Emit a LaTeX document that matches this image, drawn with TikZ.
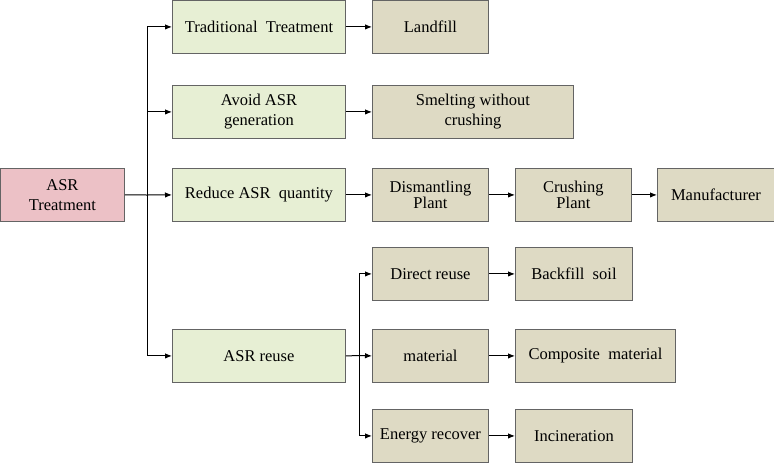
\documentclass[tikz,border=0pt]{standalone}
\usepackage{fontspec}
\setmainfont{Liberation Serif}
\usetikzlibrary{arrows.meta}
\definecolor{pinkf}{RGB}{236,193,198}
\definecolor{greenf}{RGB}{231,239,212}
\definecolor{tanf}{RGB}{222,218,196}
\definecolor{edgec}{RGB}{100,100,100}
\tikzset{
  box/.style={draw=edgec, line width=0.9pt, minimum height=53pt, inner sep=0pt, align=center, font=\fontsize{16.5}{20}\selectfont, anchor=north west},
  pinkbox/.style={box, fill=pinkf},
  greenbox/.style={box, fill=greenf, minimum width=173pt},
  tanbox/.style={box, fill=tanf},
  conn/.style={line width=1pt, black},
  arr/.style={conn, -{Latex[length=7pt,width=5.5pt]}}
}
\begin{document}
\begin{tikzpicture}[x=1pt,y=-1pt]
\useasboundingbox (0,0) rectangle (774,463);
\node[pinkbox, minimum width=124pt] (asr) at (0,168) {ASR\\Treatment};
\node[greenbox] (trad) at (172,0) {Traditional\ \ Treatment};
\node[greenbox] (avoid) at (172,85) {Avoid ASR\\generation};
\node[greenbox] (reduce) at (172,168) {Reduce\ ASR\ \ quantity};
\node[greenbox] (reuse) at (172,329) {ASR reuse};
\node[tanbox, minimum width=116pt] (land) at (372,0) {Landfill};
\node[tanbox, minimum width=201pt] (smelt) at (372,85) {Smelting without\\crushing};
\node[tanbox, minimum width=116pt, font=\fontsize{16.5}{15.5}\selectfont] (dis) at (372,168) {Dismantling\\Plant};
\node[tanbox, minimum width=116pt, font=\fontsize{16.5}{15.5}\selectfont] (crush) at (515,168) {Crushing\\Plant};
\node[tanbox, minimum width=117pt] (manu) at (657,168) {Manufacturer};
\node[tanbox, minimum width=116pt] (direct) at (372,247) {Direct reuse};
\node[tanbox, minimum width=116pt] (mat) at (372,329) {material};
\node[tanbox, minimum width=116pt] (energy) at (372,409) {Energy\ recover};
\node[tanbox, minimum width=117pt] (back) at (515,247) {Backfill\ \ soil};
\node[tanbox, minimum width=160pt] (comp) at (515,329) {Composite\ \ material};
\node[tanbox, minimum width=117pt] (inc) at (515,409) {Incineration};
\coordinate (j1) at (147,195);
\coordinate (j2) at (359,355.5);
\draw[conn] (asr.east) -- (j1);
\draw[arr] (j1) |- (trad.west);
\draw[arr] (j1) |- (avoid.west);
\draw[arr] (j1) -- (reduce.west);
\draw[arr] (j1) |- (reuse.west);
\draw[arr] (trad.east) -- (land.west);
\draw[arr] (avoid.east) -- (smelt.west);
\draw[arr] (reduce.east) -- (dis.west);
\draw[arr] (dis.east) -- (crush.west);
\draw[arr] (crush.east) -- (manu.west);
\draw[conn] (reuse.east) -- (j2);
\draw[arr] (j2) |- (direct.west);
\draw[arr] (j2) -- (mat.west);
\draw[arr] (j2) |- (energy.west);
\draw[arr] (direct.east) -- (back.west);
\draw[arr] (mat.east) -- (comp.west);
\draw[arr] (energy.east) -- (inc.west);
\end{tikzpicture}
\end{document}
